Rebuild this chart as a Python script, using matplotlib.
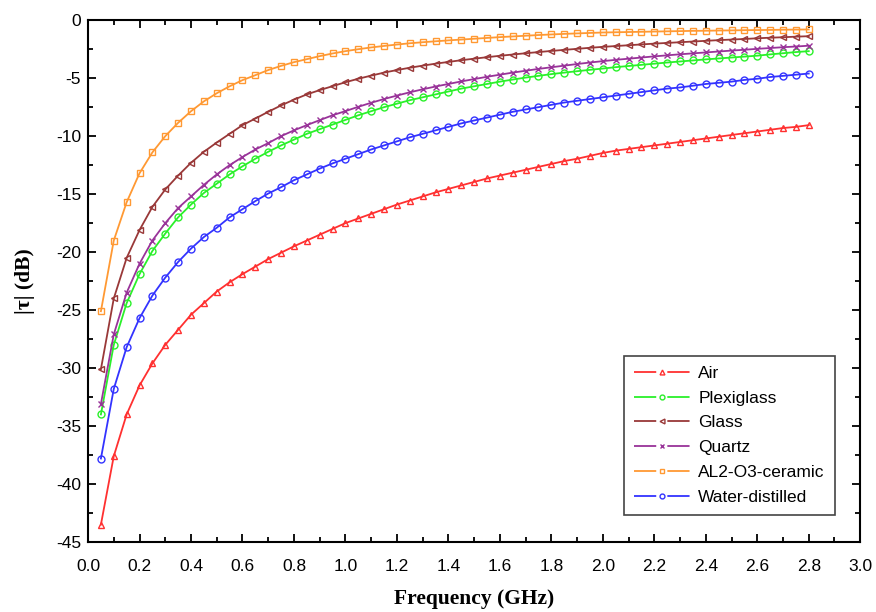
import matplotlib
matplotlib.use("Agg")
import matplotlib.pyplot as plt
from matplotlib.ticker import MultipleLocator, FormatStrFormatter
from matplotlib.lines import Line2D

freq = [0.05, 0.10, 0.15, 0.20, 0.25, 0.30, 0.35, 0.40, 0.45, 0.50,
        0.55, 0.60, 0.65, 0.70, 0.75, 0.80, 0.85, 0.90, 0.95, 1.00,
        1.05, 1.10, 1.15, 1.20, 1.25, 1.30, 1.35, 1.40, 1.45, 1.50,
        1.55, 1.60, 1.65, 1.70, 1.75, 1.80, 1.85, 1.90, 1.95, 2.00,
        2.05, 2.10, 2.15, 2.20, 2.25, 2.30, 2.35, 2.40, 2.45, 2.50,
        2.55, 2.60, 2.65, 2.70, 2.75, 2.80]

air = [-43.5, -37.6, -34.0, -31.5, -29.6, -28.0, -26.7, -25.4, -24.4, -23.4,
       -22.6, -21.9, -21.25, -20.6, -20.05, -19.5, -19.0, -18.5, -18.0, -17.5,
       -17.1, -16.7, -16.3, -15.9, -15.55, -15.2, -14.85, -14.55, -14.25, -13.95,
       -13.65, -13.4, -13.15, -12.9, -12.65, -12.4, -12.15, -11.95, -11.7, -11.45,
       -11.25, -11.1, -10.95, -10.8, -10.65, -10.5, -10.35, -10.2, -10.05, -9.9,
       -9.75, -9.6, -9.45, -9.3, -9.2, -9.05]

plexiglass = [-34.0, -28.0, -24.4, -21.9, -19.9, -18.4, -17.0, -15.9, -14.9, -14.1,
              -13.3, -12.6, -11.95, -11.35, -10.8, -10.3, -9.8, -9.4, -9.0, -8.6,
              -8.2, -7.85, -7.5, -7.2, -6.9, -6.65, -6.4, -6.15, -5.9, -5.7,
              -5.5, -5.3, -5.12, -4.95, -4.8, -4.65, -4.52, -4.4, -4.28, -4.17,
              -4.05, -3.95, -3.85, -3.75, -3.65, -3.56, -3.47, -3.38, -3.3, -3.22,
              -3.14, -3.06, -2.95, -2.85, -2.75, -2.67]

glass = [-30.1, -24.0, -20.5, -18.1, -16.1, -14.6, -13.4, -12.3, -11.35, -10.55,
         -9.8, -9.05, -8.48, -7.9, -7.35, -6.85, -6.4, -6.03, -5.69, -5.35,
         -5.05, -4.78, -4.52, -4.3, -4.1, -3.92, -3.75, -3.6, -3.45, -3.32,
         -3.19, -3.07, -2.96, -2.85, -2.75, -2.65, -2.56, -2.47, -2.38, -2.3,
         -2.23, -2.16, -2.09, -2.02, -1.96, -1.9, -1.84, -1.78, -1.72, -1.67,
         -1.62, -1.56, -1.51, -1.47, -1.42, -1.38]

quartz = [-33.1, -27.1, -23.5, -21.0, -19.0, -17.5, -16.2, -15.2, -14.2, -13.3,
          -12.5, -11.8, -11.15, -10.6, -10.0, -9.5, -9.05, -8.62, -8.2, -7.84,
          -7.47, -7.12, -6.8, -6.5, -6.22, -5.96, -5.72, -5.5, -5.28, -5.08,
          -4.88, -4.7, -4.52, -4.36, -4.2, -4.06, -3.92, -3.78, -3.65, -3.53,
          -3.42, -3.32, -3.22, -3.12, -3.03, -2.94, -2.86, -2.78, -2.7, -2.62,
          -2.55, -2.47, -2.4, -2.33, -2.27, -2.2]

al2o3 = [-25.1, -19.0, -15.7, -13.2, -11.4, -10.0, -8.85, -7.85, -7.0, -6.3,
         -5.7, -5.17, -4.74, -4.3, -3.94, -3.62, -3.36, -3.1, -2.87, -2.67,
         -2.5, -2.35, -2.22, -2.1, -1.99, -1.9, -1.82, -1.74, -1.67, -1.6,
         -1.53, -1.46, -1.4, -1.34, -1.28, -1.23, -1.18, -1.14, -1.1, -1.06,
         -1.04, -1.02, -1.0, -0.98, -0.96, -0.94, -0.92, -0.91, -0.89, -0.88,
         -0.86, -0.85, -0.84, -0.82, -0.81, -0.8]

water = [-37.8, -31.8, -28.2, -25.7, -23.75, -22.2, -20.85, -19.7, -18.7, -17.9,
         -17.0, -16.3, -15.6, -14.95, -14.4, -13.8, -13.3, -12.8, -12.35, -11.95,
         -11.55, -11.15, -10.8, -10.45, -10.1, -9.8, -9.5, -9.2, -8.9, -8.65,
         -8.4, -8.15, -7.9, -7.7, -7.5, -7.3, -7.1, -6.95, -6.8, -6.65,
         -6.5, -6.35, -6.2, -6.05, -5.9, -5.8, -5.65, -5.5, -5.4, -5.3,
         -5.15, -5.05, -4.9, -4.8, -4.7, -4.6]

series = [
    ("Air", air, "#ff3030", "^"),
    ("Plexiglass", plexiglass, "#2af02a", "o"),
    ("Glass", glass, "#993838", "<"),
    ("Quartz", quartz, "#993399", "x"),
    ("AL2-O3-ceramic", al2o3, "#ff9933", "s"),
    ("Water-distilled", water, "#3333ff", "o"),
]

plt.rcParams['font.family'] = ['Liberation Sans', 'DejaVu Sans']
plt.rcParams['axes.unicode_minus'] = False

fig = plt.figure(figsize=(8.76, 6.12), dpi=100)
ax = fig.add_axes([0.1005, 0.1144, 0.8815, 0.8526])

LW = 1.3
FS_LEG = 12.5
HL = 3.2
seg = HL * FS_LEG * 0.4   # points of each line piece
gap = HL * FS_LEG * 0.2   # points of the central gap
handles = []
for name, vals, col, mk in series:
    ax.plot(freq, vals, color=col, marker=mk, markersize=5,
            markerfacecolor='none', markeredgecolor=col,
            markeredgewidth=1.0, linewidth=LW)
    handles.append(Line2D([], [], color=col, marker=mk, markersize=3.5,
                          markerfacecolor='none', markeredgecolor=col,
                          markeredgewidth=1.0, linewidth=LW,
                          linestyle=(0, (seg / LW, gap / LW)), label=name))

ax.set_xlim(0.0, 3.0)
ax.set_ylim(-45, 0)
ax.xaxis.set_major_locator(MultipleLocator(0.2))
ax.xaxis.set_minor_locator(MultipleLocator(0.1))
ax.yaxis.set_major_locator(MultipleLocator(5))
ax.yaxis.set_minor_locator(MultipleLocator(2.5))
ax.xaxis.set_major_formatter(FormatStrFormatter('%.1f'))
ax.yaxis.set_major_formatter(FormatStrFormatter('%d'))
ax.tick_params(which='both', direction='in', top=True, right=True,
               width=1.3, labelsize=12.5)
ax.tick_params(which='major', length=6)
ax.tick_params(which='minor', length=3.5)
ax.tick_params(axis='x', pad=12)
ax.tick_params(axis='y', pad=5)
for sp in ax.spines.values():
    sp.set_linewidth(1.5)

ax.set_xlabel("Frequency (GHz)", family=['Liberation Serif', 'DejaVu Serif'],
              fontweight='bold', fontsize=15.5, labelpad=11)
ax.set_ylabel("|τ| (dB)", family=['Liberation Serif', 'DejaVu Serif'],
              fontweight='bold', fontsize=15.5, labelpad=15)

leg = ax.legend(handles=handles, loc='lower right', bbox_to_anchor=(0.9676, 0.0517),
                borderaxespad=0, fontsize=FS_LEG, handlelength=HL, handletextpad=0.5,
                labelspacing=0.55, fancybox=False,
                framealpha=1, edgecolor='#444444', borderpad=0.6)
leg.get_frame().set_linewidth(1.2)

fig.savefig("out.png", dpi=100)
